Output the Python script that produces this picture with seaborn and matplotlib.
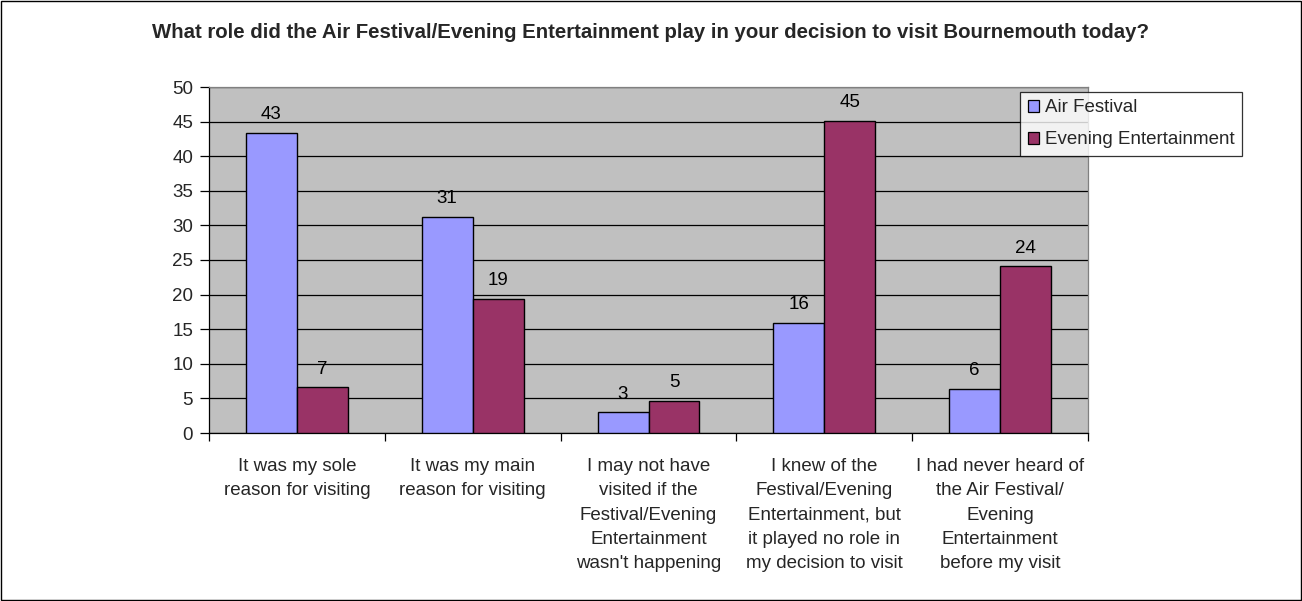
import matplotlib
matplotlib.use("Agg")
import matplotlib.pyplot as plt
from matplotlib.patches import Rectangle, Patch
import numpy as np
import pandas as pd
import seaborn as sns

categories = [
    "It was my sole\nreason for visiting",
    "It was my main\nreason for visiting",
    "I may not have\nvisited if the\nFestival/Evening\nEntertainment\nwasn't happening",
    "I knew of the\nFestival/Evening\nEntertainment, but\nit played no role in\nmy decision to visit",
    "I had never heard of\nthe Air Festival/\nEvening\nEntertainment\nbefore my visit",
]
series_names = ["Air Festival", "Evening Entertainment"]
air_festival = [43.4, 31.2, 3.0, 15.9, 6.4]
evening_entertainment = [6.6, 19.4, 4.6, 45.1, 24.1]
y_ticks = list(range(0, 51, 5))

colors = {"Air Festival": "#9999FF", "Evening Entertainment": "#993366"}

df = pd.DataFrame({
    "category": categories * 2,
    "series": [series_names[0]] * 5 + [series_names[1]] * 5,
    "value": air_festival + evening_entertainment,
})

sns.set_theme(style="white")
plt.rcParams["font.family"] = ["Liberation Sans", "DejaVu Sans"]

FS = 13.5

fig = plt.figure(figsize=(13.02, 6.01), dpi=100)
ax = fig.add_axes([209 / 1302, 1 - 433 / 601, (1088 - 209) / 1302, (433 - 87) / 601])
ax.set_facecolor("#C0C0C0")

sns.barplot(data=df, x="category", y="value", hue="series", order=categories,
            hue_order=series_names, palette=colors, width=0.58, dodge=True,
            edgecolor="black", linewidth=1.0, saturation=1, ax=ax, legend=False,
            zorder=3)

ax.set_ylim(0, 50)
ax.set_yticks(y_ticks)
ax.set_xlim(-0.5, len(categories) - 0.5)
ax.yaxis.grid(True, color="black", linewidth=0.9, zorder=0)
ax.set_axisbelow(True)
ax.set_xlabel("")
ax.set_ylabel("")

for cont in ax.containers:
    ax.bar_label(cont, fmt="%.0f", padding=7, fontsize=FS, color="black")

# x ticks sit between categories, labels at the category centres
ax.set_xticks(np.arange(-0.5, len(categories), 1.0))
ax.set_xticklabels([])
ax.set_xticks(np.arange(len(categories)), minor=True)
ax.set_xticklabels(categories, minor=True, fontsize=FS, linespacing=1.56)
ax.tick_params(axis="x", which="major", direction="out", length=6, width=0.9,
               color="black", bottom=True)
ax.tick_params(axis="x", which="minor", length=0, pad=18)
ax.tick_params(axis="y", direction="out", length=6.5, width=0.9, color="black",
               left=True, labelsize=FS, pad=5)

for side in ["left", "bottom"]:
    ax.spines[side].set_color("black")
    ax.spines[side].set_linewidth(0.9)
for side in ["top", "right"]:
    ax.spines[side].set_color("#808080")
    ax.spines[side].set_linewidth(0.9)

handles = [Patch(facecolor=colors[s], edgecolor="black", linewidth=0.9, label=s)
           for s in series_names]
leg = fig.legend(handles=handles, loc="upper left",
                 bbox_to_anchor=(1020 / 1302, 1 - 92 / 601),
                 frameon=True, fancybox=False, fontsize=FS, handlelength=0.6,
                 handleheight=0.6, handletextpad=0.35, borderpad=0.4,
                 labelspacing=0.8, borderaxespad=0)
leg.get_frame().set_edgecolor("black")
leg.get_frame().set_linewidth(0.9)

fig.text(0.5, 1 - 33 / 601, "What role did the Air Festival/Evening Entertainment play in your decision to visit Bournemouth today?",
         ha="center", va="center", fontsize=14.7, fontweight="bold")

fig.patches.append(Rectangle((0.0008, 0.0015), 0.9985, 0.997, transform=fig.transFigure,
                             fill=False, edgecolor="black", linewidth=1.0))

fig.savefig("out.png", dpi=100)
